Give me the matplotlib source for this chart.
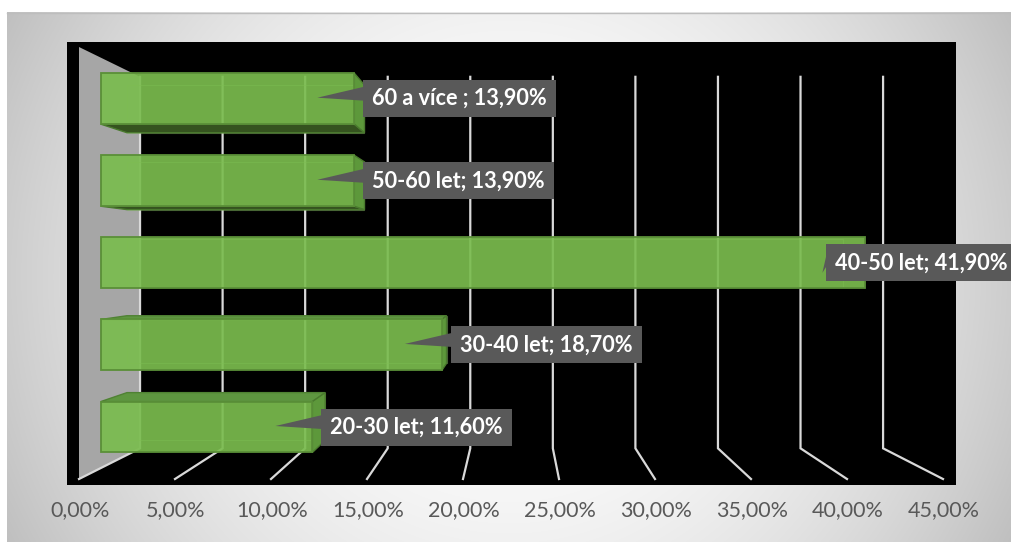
import numpy as np
import matplotlib.pyplot as plt
from matplotlib.patches import Polygon, Rectangle

# age groups (bottom to top) and their share in %
categories = ["20-30 let", "30-40 let", "40-50 let", "50-60 let", "60 a více "]
shares = [11.6, 18.7, 41.9, 13.9, 13.9]
ticks = [0, 5, 10, 15, 20, 25, 30, 35, 40, 45]

plt.rcParams['font.family'] = ['Lato', 'DejaVu Sans']

W, H = 1011, 542
fig = plt.figure(figsize=(W / 100, H / 100), dpi=100)
ax = fig.add_axes([0, 0, 1, 1])

# simple perspective: points on the front plane shrink toward (VX, VY) by depth scale s
VX, VY = 515.0, 260.0
X0, PX = 79.0, 19.2          # front-plane x of 0 % and pixels per percent
Y_TOP, Y_FLOOR = 47.0, 479.0
S_WALL = 0.86                # back wall depth
S_F, S_B = 0.95, 0.89        # bar front / back depth


def xv(v):
    return X0 + PX * v


def proj(x, y, s):
    return (VX + (x - VX) * s, VY + (y - VY) * s)


# chart area with radial grey gradient
gx = np.arange(7, W) + 0.5
gy = np.arange(12, H) + 0.5
GX, GY = np.meshgrid(gx, gy)
d = np.hypot(GX - 509, GY - 277) / 568
shade = np.clip(1 - 0.25 * d ** 2, 0, 1)
ax.imshow(np.dstack([shade] * 3), extent=(7, W, H, 12), zorder=0,
          interpolation='bilinear', aspect='auto')
ax.plot([7, W], [12.5, 12.5], color='#bdbdbd', lw=1, zorder=1)

# black plot area
ax.add_patch(Rectangle((67, 42), 889, 443, facecolor='black', zorder=1))

# left side wall
wall = [proj(xv(0), Y_TOP, 1), proj(xv(0), Y_TOP, S_WALL),
        proj(xv(0), Y_FLOOR, S_WALL), proj(xv(0), Y_FLOOR, 1)]
ax.add_patch(Polygon(wall, closed=True, facecolor='#a6a6a6', edgecolor='none', zorder=2))

# gridlines: up the back wall, then across the floor
for t in ticks:
    p_top = proj(xv(t), Y_TOP, S_WALL)
    p_bot = proj(xv(t), Y_FLOOR, S_WALL)
    p_front = proj(xv(t), Y_FLOOR, 1)
    ax.plot([p_top[0], p_bot[0], p_front[0]], [p_top[1], p_bot[1], p_front[1]],
            color='#d9d9d9', lw=1.6, zorder=3, solid_joinstyle='miter')

# 3d bars
band = (Y_FLOOR - Y_TOP) / len(categories)
bh = band * 0.62
bar_geom = []
for i, (cat, val) in enumerate(zip(categories, shares)):
    yc = Y_FLOOR - (i + 0.5) * band
    y1, y2 = yc - bh / 2, yc + bh / 2
    xa, xb = xv(0), xv(val)
    f = lambda x, y: proj(x, y, S_F)
    b = lambda x, y: proj(x, y, S_B)

    back = [b(xa, y1), b(xb, y1), b(xb, y2), b(xa, y2)]
    ax.add_patch(Polygon(back, closed=True, facecolor='none', edgecolor='#9fd07c',
                         lw=0.8, alpha=0.45, zorder=4))

    if b(xa, y2)[1] > f(xa, y2)[1]:
        ax.add_patch(Polygon([f(xa, y2), f(xb, y2), b(xb, y2), b(xa, y2)], closed=True,
                             facecolor='#35531f', edgecolor='#4a7a2e', lw=1, zorder=5))
    if b(xa, y1)[1] < f(xa, y1)[1]:
        ax.add_patch(Polygon([f(xa, y1), f(xb, y1), b(xb, y1), b(xa, y1)], closed=True,
                             facecolor='#5e9640', edgecolor='#4f8233', lw=1, zorder=5))
    if b(xb, y1)[0] > f(xb, y1)[0]:
        ax.add_patch(Polygon([f(xb, y1), b(xb, y1), b(xb, y2), f(xb, y2)], closed=True,
                             facecolor='#5d983b', edgecolor='#4a7a2e', lw=1, zorder=5))

    front = [f(xa, y1), f(xb, y1), f(xb, y2), f(xa, y2)]
    ax.add_patch(Polygon(front, closed=True, facecolor='#7abc4e', alpha=0.92,
                         edgecolor='none', zorder=6))
    ax.add_patch(Polygon(front, closed=True, facecolor='none', edgecolor='#5a8f38',
                         lw=1.3, zorder=6))
    bar_geom.append((f(xb, yc)[0], f(xb, yc)[1], cat, val))

# value callouts
fig.canvas.draw()
renderer = fig.canvas.get_renderer()
for xe, yc, cat, val in bar_geom:
    label = f"{cat}; " + f"{val:.2f}".replace('.', ',') + "%"
    txt = ax.text(0, yc, label, ha='left', va='center', fontsize=15.6,
                  fontweight='bold', color='white', zorder=9)
    tw = txt.get_window_extent(renderer).width
    bw, bhh = tw + 18, 37
    left = xe + 9
    if left + bw > W:
        # callout pushed back so its text stays inside, box runs to the edge
        left = W - 3 - tw - 9
        bw = W - left
        tip = (left - 4, yc + 10)
    else:
        tip = (xe - 37, yc - 1)
    txt.set_x(left + 9)
    ax.add_patch(Rectangle((left, yc - bhh / 2), bw, bhh, facecolor='#595959',
                           edgecolor='none', zorder=8))
    ax.add_patch(Polygon([tip, (left + 1, yc - 12), (left + 1, yc + 2)], closed=True,
                         facecolor='#595959', edgecolor='none', zorder=8))

# percent axis labels
for t in ticks:
    ax.text(xv(t) + 1, 510, f"{t:.2f}".replace('.', ',') + "%", ha='center', va='center',
            fontsize=15.5, color='#595959', zorder=9)

ax.set_xlim(0, W)
ax.set_ylim(H, 0)
ax.axis('off')
fig.savefig('out.png', dpi=100, facecolor='white')
